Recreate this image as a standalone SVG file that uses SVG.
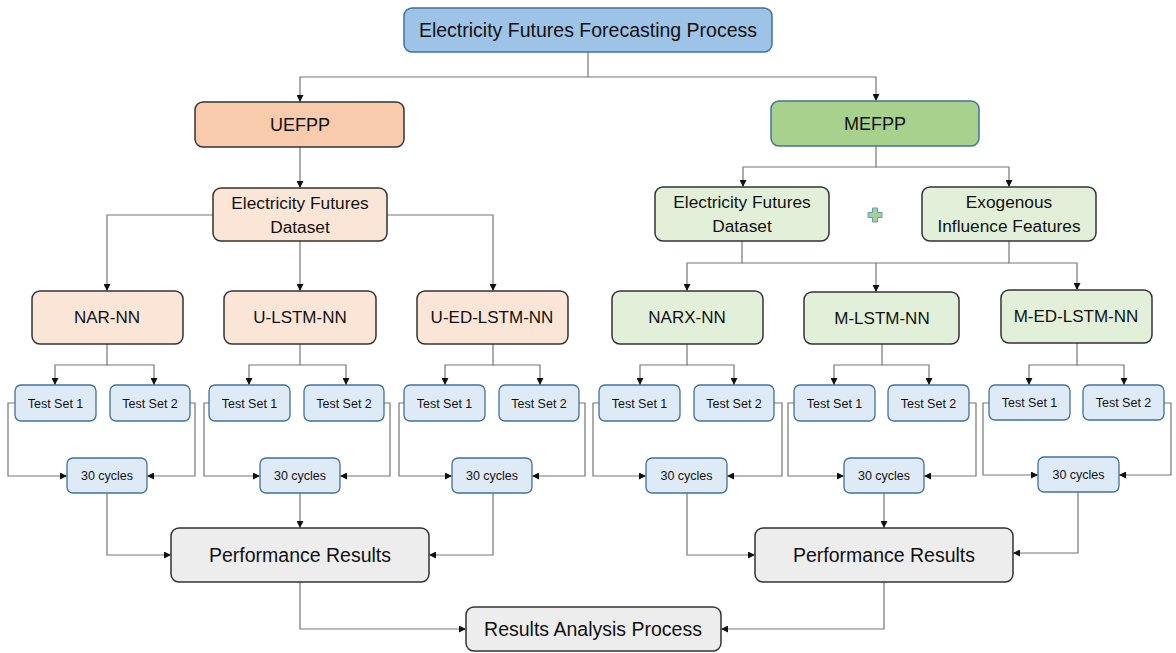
<svg xmlns="http://www.w3.org/2000/svg" width="1176" height="653" viewBox="0 0 1176 653">
<defs>
<marker id="ah" viewBox="0 0 8 8" refX="8" refY="4" markerWidth="7" markerHeight="7" markerUnits="userSpaceOnUse" orient="auto">
<path d="M0,0 L8,4 L0,8 z" fill="#111"/>
</marker>
<style>
text{font-family:"Liberation Sans",Arial,sans-serif;fill:#111;text-anchor:middle}
.c{fill:none;stroke:#767676;stroke-width:1.2}
.a{marker-end:url(#ah)}
.top{fill:#9DC3E6;stroke:#41719C;stroke-width:1.5}
.u{fill:#F8CBAD;stroke:#333;stroke-width:1.5}
.m{fill:#A9D18E;stroke:#41719C;stroke-width:1.5}
.ul{fill:#FBE5D6;stroke:#333;stroke-width:1.5}
.ml{fill:#E2F0D9;stroke:#333;stroke-width:1.5}
.ts{fill:#DEEBF7;stroke:#41719C;stroke-width:1.3}
.pr{fill:#EDEDED;stroke:#333;stroke-width:1.5}
.t20{font-size:19.5px}
.t18{font-size:18px}
.t17{font-size:17px}
.t16{font-size:17.3px}
.t12{font-size:12.5px}
</style>
</defs>
<g id="connectors">
<path class="c a" d="M588,52 V77 H300 V102"/>
<path class="c a" d="M588,77 H876 V101"/>
<path class="c a" d="M300,147 V188"/>
<path class="c a" d="M213,215 H107 V291"/>
<path class="c a" d="M300,241 V291"/>
<path class="c a" d="M387,215 H493 V291"/>
<path class="c a" d="M876,146 V167 H743 V187"/>
<path class="c a" d="M876,167 H1009 V187"/>
<path class="c a" d="M742,241 V263 H687 V291"/>
<path class="c a" d="M1009,241 V263 H1077 V290"/>
<path class="c" d="M742,263 H1009"/>
<path class="c a" d="M876,263 V292"/>
<path class="c a" d="M107,344 V365 H55 V385"/>
<path class="c a" d="M107,365 H154 V385"/>
<path class="c a" d="M15,403 H8 V476 H67"/>
<path class="c a" d="M190,403 H195 V476 H147"/>
<path class="c a" d="M107,493 V555 H171"/>
<path class="c a" d="M300,344 V365 H249 V385"/>
<path class="c a" d="M300,365 H346 V385"/>
<path class="c a" d="M209,403 H204 V476 H260"/>
<path class="c a" d="M384,403 H390 V476 H340"/>
<path class="c a" d="M300,493 V528"/>
<path class="c a" d="M493,344 V365 H445 V385"/>
<path class="c a" d="M493,365 H540 V385"/>
<path class="c a" d="M404,403 H399 V476 H452"/>
<path class="c a" d="M579,403 H585 V476 H532"/>
<path class="c a" d="M493,493 V555 H429"/>
<path class="c a" d="M687,344 V365 H640 V385"/>
<path class="c a" d="M687,365 H734 V385"/>
<path class="c a" d="M599,403 H593 V476 H646"/>
<path class="c a" d="M774,403 H782 V476 H727"/>
<path class="c a" d="M687,493 V555 H755"/>
<path class="c a" d="M882,344 V365 H834 V385"/>
<path class="c a" d="M882,365 H929 V385"/>
<path class="c a" d="M794,403 H788 V476 H844"/>
<path class="c a" d="M969,403 H976 V476 H924"/>
<path class="c a" d="M884,493 V528"/>
<path class="c a" d="M1077,343 V365 H1029 V385"/>
<path class="c a" d="M1077,365 H1124 V385"/>
<path class="c a" d="M989,403 H983 V475 H1038"/>
<path class="c a" d="M1164,403 H1171 V475 H1119"/>
<path class="c a" d="M1078,492 V553 H1013"/>
<path class="c a" d="M300,582 V629 H466"/>
<path class="c a" d="M884,582 V629 H721"/>
</g>
<g id="n-top"><rect class="top" x="404" y="8" width="368" height="44" rx="8"/><text class="t20" x="588" y="37">Electricity Futures Forecasting Process</text></g>
<g id="n-uefpp"><rect class="u" x="195" y="102" width="209" height="45" rx="8"/><text class="t18" x="300" y="131">UEFPP</text></g>
<g id="n-mefpp"><rect class="m" x="771" y="101" width="208" height="45" rx="8"/><text class="t18" x="875" y="130">MEFPP</text></g>
<g id="n-udata"><rect class="ul" x="213" y="188" width="174" height="53" rx="8"/><text class="t16" x="300" y="209">Electricity Futures</text><text class="t16" x="300" y="233">Dataset</text></g>
<g id="n-mdata"><rect class="ml" x="655" y="187" width="174" height="54" rx="8"/><text class="t16" x="742" y="208">Electricity Futures</text><text class="t16" x="742" y="232">Dataset</text></g>
<g id="n-exo"><rect class="ml" x="922" y="187" width="174" height="54" rx="8"/><text class="t16" x="1009" y="208">Exogenous</text><text class="t16" x="1009" y="232">Influence Features</text></g>
<g id="n-plus"><path d="M872.5,208 h5 v4.5 h4.5 v5 h-4.5 v4.5 h-5 v-4.5 h-4.5 v-5 h4.5 z" fill="#A9D18E" stroke="#5B9BD5" stroke-width="1"/></g>
<g id="n-nar"><rect class="ul" x="32" y="291" width="151" height="53" rx="8"/><text class="t17" x="107" y="323">NAR-NN</text></g>
<g id="n-ulstm"><rect class="ul" x="224" y="291" width="152" height="53" rx="8"/><text class="t17" x="300" y="323">U-LSTM-NN</text></g>
<g id="n-ued"><rect class="ul" x="417" y="291" width="151" height="53" rx="8"/><text class="t17" x="492" y="323">U-ED-LSTM-NN</text></g>
<g id="n-narx"><rect class="ml" x="612" y="291" width="151" height="53" rx="8"/><text class="t17" x="687" y="323">NARX-NN</text></g>
<g id="n-mlstm"><rect class="ml" x="804" y="292" width="155" height="52" rx="8"/><text class="t17" x="882" y="324">M-LSTM-NN</text></g>
<g id="n-med"><rect class="ml" x="1001" y="290" width="151" height="53" rx="8"/><text class="t17" x="1076" y="322">M-ED-LSTM-NN</text></g>
<g id="n-nar-ts1"><rect class="ts" x="15" y="385" width="81" height="36" rx="6"/><text class="t12" x="55.5" y="407.5">Test Set 1</text></g>
<g id="n-nar-ts2"><rect class="ts" x="110" y="385" width="80" height="36" rx="6"/><text class="t12" x="150" y="407.5">Test Set 2</text></g>
<g id="n-nar-cy"><rect class="ts" x="67" y="458" width="80" height="35" rx="6"/><text class="t12" x="107" y="480">30 cycles</text></g>
<g id="n-ulstm-ts1"><rect class="ts" x="209" y="385" width="81" height="36" rx="6"/><text class="t12" x="249.5" y="407.5">Test Set 1</text></g>
<g id="n-ulstm-ts2"><rect class="ts" x="304" y="385" width="80" height="36" rx="6"/><text class="t12" x="344" y="407.5">Test Set 2</text></g>
<g id="n-ulstm-cy"><rect class="ts" x="260" y="458" width="80" height="35" rx="6"/><text class="t12" x="300" y="480">30 cycles</text></g>
<g id="n-ued-ts1"><rect class="ts" x="404" y="385" width="81" height="36" rx="6"/><text class="t12" x="444.5" y="407.5">Test Set 1</text></g>
<g id="n-ued-ts2"><rect class="ts" x="499" y="385" width="80" height="36" rx="6"/><text class="t12" x="539" y="407.5">Test Set 2</text></g>
<g id="n-ued-cy"><rect class="ts" x="452" y="458" width="80" height="35" rx="6"/><text class="t12" x="492" y="480">30 cycles</text></g>
<g id="n-narx-ts1"><rect class="ts" x="599" y="385" width="81" height="36" rx="6"/><text class="t12" x="639.5" y="407.5">Test Set 1</text></g>
<g id="n-narx-ts2"><rect class="ts" x="694" y="385" width="80" height="36" rx="6"/><text class="t12" x="734" y="407.5">Test Set 2</text></g>
<g id="n-narx-cy"><rect class="ts" x="646" y="458" width="81" height="35" rx="6"/><text class="t12" x="686.5" y="480">30 cycles</text></g>
<g id="n-mlstm-ts1"><rect class="ts" x="794" y="385" width="81" height="36" rx="6"/><text class="t12" x="834.5" y="407.5">Test Set 1</text></g>
<g id="n-mlstm-ts2"><rect class="ts" x="888" y="385" width="81" height="36" rx="6"/><text class="t12" x="928.5" y="407.5">Test Set 2</text></g>
<g id="n-mlstm-cy"><rect class="ts" x="844" y="458" width="80" height="35" rx="6"/><text class="t12" x="884" y="480">30 cycles</text></g>
<g id="n-med-ts1"><rect class="ts" x="989" y="385" width="81" height="35" rx="6"/><text class="t12" x="1029.5" y="407">Test Set 1</text></g>
<g id="n-med-ts2"><rect class="ts" x="1083" y="385" width="81" height="35" rx="6"/><text class="t12" x="1123.5" y="407">Test Set 2</text></g>
<g id="n-med-cy"><rect class="ts" x="1038" y="457" width="81" height="35" rx="6"/><text class="t12" x="1078.5" y="479">30 cycles</text></g>
<g id="n-perf-l"><rect class="pr" x="171" y="528" width="258" height="54" rx="8"/><text class="t20" x="300" y="562">Performance Results</text></g>
<g id="n-perf-r"><rect class="pr" x="755" y="528" width="258" height="54" rx="8"/><text class="t20" x="884" y="562">Performance Results</text></g>
<g id="n-analysis"><rect class="pr" x="466" y="607" width="255" height="44" rx="8"/><text class="t20" x="593" y="636">Results Analysis Process</text></g>
</svg>
